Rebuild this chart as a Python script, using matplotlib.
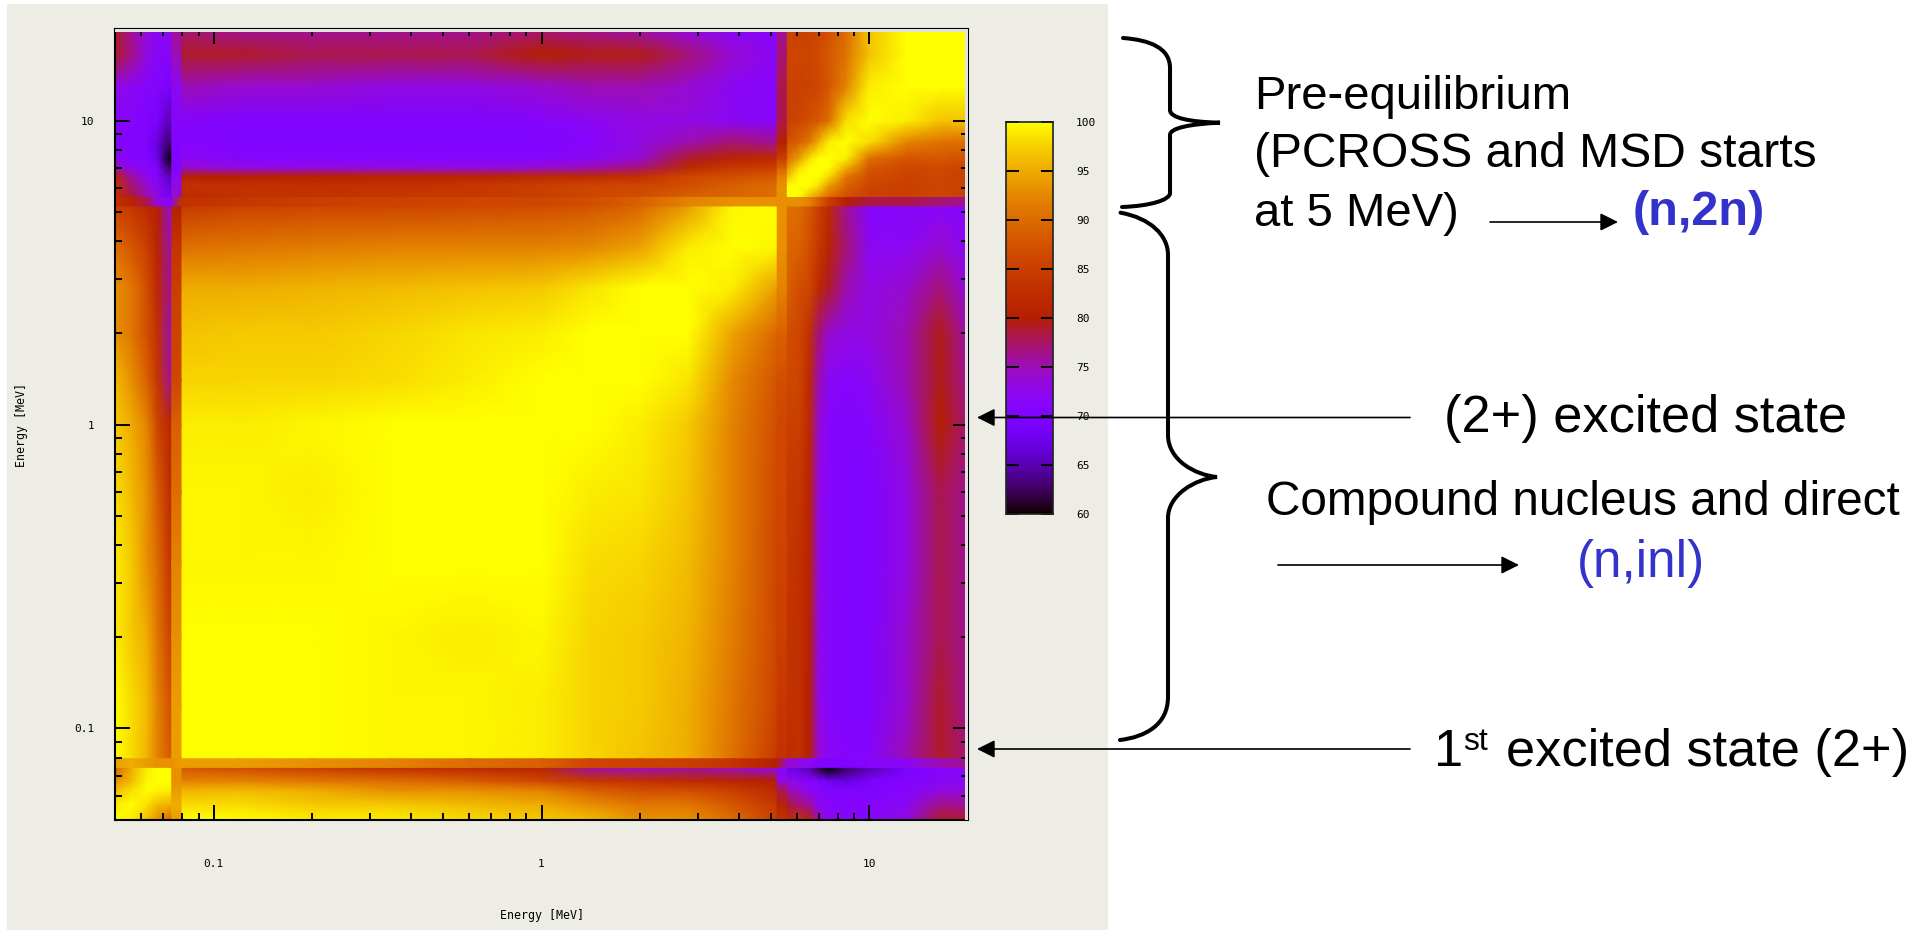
import matplotlib
matplotlib.use('Agg')
import matplotlib.pyplot as plt
import numpy as np
from matplotlib.path import Path
from matplotlib.patches import PathPatch, Rectangle
from matplotlib.ticker import NullFormatter, LogLocator

# Energy nodes in MeV (both axes use the same grid)
energy = [0.05, 0.056, 0.0625, 0.0672, 0.074, 0.0795, 0.12, 0.2, 0.35, 0.6, 1.0, 1.4, 2.0,
          2.8, 3.8, 5.2, 5.6, 6.1, 6.55, 7.0, 7.5, 8.5, 10, 13, 16.5, 20]

# Lower triangle of the correlation matrix
corr_rows = [
    [100],
    [99, 100],
    [96, 98, 100],
    [93, 96, 99.5, 100],
    [89, 95, 99, 100, 100],
    [100, 98, 95.5, 92, 88, 100],
    [100, 98, 96, 92, 87, 100, 100],
    [99, 97, 95, 91, 85, 100, 100, 100],
    [99, 97, 93, 90, 83, 99.5, 99.5, 99.5, 100],
    [98, 96, 93, 88.5, 82, 99.5, 99.5, 99, 100, 100],
    [97, 95, 92, 86, 81, 99, 99, 99.5, 100, 100, 100],
    [96, 93, 89, 84, 76, 97.5, 97.5, 97.5, 98, 99, 100, 100],
    [93, 91, 87, 83, 75, 96.5, 97, 97, 97.5, 98.5, 99, 100, 100],
    [93, 91, 87, 82, 76, 95, 95, 95.5, 96, 96.5, 97, 98.5, 100, 100],
    [90, 88, 85, 81, 75, 90.5, 91, 91.5, 92, 92, 92, 92.5, 94.5, 99, 100],
    [85, 84, 82, 80, 73, 84.5, 85.5, 86, 86, 86.5, 87, 87.5, 89.5, 94, 99.5, 100],
    [82, 79, 75, 73, 68, 82, 83, 83, 84, 84, 85, 86, 87, 89, 89.5, 90, 100],
    [83, 77, 74, 72, 67, 83, 83, 83, 83, 84, 85, 86, 86, 87, 89, 90, 100, 100],
    [81, 76, 72, 71, 65, 80, 80, 80.5, 81, 81, 82, 82, 83, 86, 87, 88, 96, 100, 100],
    [75, 72, 71, 70, 62, 74, 73, 73, 73, 73, 74, 75, 77, 82, 84, 85, 93, 98, 100, 100],
    [72, 71, 70, 68, 60, 72, 71, 71, 71, 71, 71, 72, 74, 79, 81, 82, 90, 94, 98, 100, 100],
    [71, 70.5, 70, 67, 62.5, 71, 70, 70, 70, 70, 70, 71, 73, 75, 77, 76, 87, 89, 91, 95, 99, 100],
    [71, 71, 70, 69.5, 65, 71, 70, 70, 70, 70, 71, 72, 73, 73, 72, 71, 85, 86, 87, 88, 90, 98, 100],
    [73, 72, 71, 70.5, 69.5, 75, 74, 74, 73, 73, 74, 75, 75, 74, 72, 71, 85, 85, 85.5, 86, 87.5, 92, 99, 100],
    [79, 76.5, 73, 71.5, 71, 79, 79, 78, 78, 78, 80, 79.5, 79.5, 77, 74, 71.5, 86, 86, 86, 86.5, 88, 90.5, 96.5, 100, 100],
    [79, 76, 73.5, 72, 72, 77, 76, 76, 76, 76, 77, 76, 75, 73, 71.5, 71, 85, 85, 85, 85.5, 87, 90, 96.5, 100, 100, 100],
]

# The two narrow stripes, values along the energy grid
low_band = [94, 95, 94, 93, 93, 94, 94, 93, 92, 90, 89, 86, 85.5, 85, 83.5, 80, 74, 73, 72, 70.5, 70,
            70, 71, 72, 75, 76]
high_band = [83, 81, 78, 73, 71, 83, 84, 85, 85.5, 86, 86, 87, 89, 92, 93, 93, 93, 93, 92, 89, 85,
             80, 78, 78, 77, 76]
low_band_edges = [0.0745, 0.0795]
high_band_edges = [5.24, 5.58]

colorbar_ticks = [60, 65, 70, 75, 80, 85, 90, 95, 100]

W, H = 1931, 930
fig = plt.figure(figsize=(W / 100, H / 100), dpi=100, facecolor='white')
plt.rcParams['font.family'] = ['Liberation Sans', 'DejaVu Sans']


def axes_px(left, top, right, bottom, **kw):
    return fig.add_axes([left / W, 1 - bottom / H, (right - left) / W, (bottom - top) / H], **kw)


# grey panel behind the gnuplot picture
bg = axes_px(0, 0, W, H, zorder=0)
bg.set_xlim(0, W)
bg.set_ylim(H, 0)
bg.axis('off')
bg.add_patch(Rectangle((7, 4), 1101, 926, fc='#edece5', ec='none'))

# Main map
n = len(energy)
matrix = np.zeros((n, n))
for i, row in enumerate(corr_rows):
    for j, val in enumerate(row):
        matrix[i, j] = val
        matrix[j, i] = val

ax = axes_px(115, 29, 968, 820, zorder=1)
ax.set_xscale('log')
ax.set_yscale('log')
norm = plt.Normalize(60, 100)
ax.pcolormesh(energy, energy, matrix, shading='gouraud', cmap='gnuplot', norm=norm)

# stripes on top, columns first then rows
for edges, band in [(low_band_edges, low_band), (high_band_edges, high_band)]:
    strip = np.array([band, band])
    ax.pcolormesh(edges, energy, strip.T, shading='gouraud', cmap='gnuplot', norm=norm)
for edges, band in [(low_band_edges, low_band), (high_band_edges, high_band)]:
    strip = np.array([band, band])
    ax.pcolormesh(energy, edges, strip, shading='gouraud', cmap='gnuplot', norm=norm)

ax.set_xlim(0.05, 20)
ax.set_ylim(0.05, 20)
ax.set_xticks([0.1, 1, 10])
ax.set_xticklabels(['0.1', '1', '10'])
ax.set_yticks([0.1, 1, 10])
ax.set_yticklabels(['0.1', '1', '10'])
for axis in (ax.xaxis, ax.yaxis):
    axis.set_minor_locator(LogLocator(base=10, subs=range(2, 10), numticks=12))
    axis.set_minor_formatter(NullFormatter())
ax.tick_params(which='major', direction='in', top=True, right=True, length=10.5, width=1.4)
ax.tick_params(which='minor', direction='in', top=True, right=True, length=5, width=1.4)
ax.tick_params(axis='x', which='major', pad=28, labelsize=8, labelfontfamily='DejaVu Sans Mono')
ax.tick_params(axis='y', which='major', pad=15, labelsize=8, labelfontfamily='DejaVu Sans Mono')
for spine in ax.spines.values():
    spine.set_linewidth(1.5)
ax.set_xlabel('Energy [MeV]', family='DejaVu Sans Mono', fontsize=8.4, labelpad=29)
ax.set_ylabel('Energy [MeV]', family='DejaVu Sans Mono', fontsize=8.4, labelpad=33)
# thin light line between the map and the frame
ax.add_patch(Rectangle((0, 1 - 3.5 / 791), 1, 3.5 / 791, transform=ax.transAxes, fc='#e2e2e2', ec='none', zorder=3))
ax.add_patch(Rectangle((1 - 3 / 853, 0), 3 / 853, 1, transform=ax.transAxes, fc='#e2e2e2', ec='none', zorder=3))

# Colour bar
cax = axes_px(1006, 122, 1053, 514, zorder=1)
cax.imshow(np.linspace(100, 60, 256).reshape(-1, 1), extent=[0, 1, 60, 100], aspect='auto', cmap='gnuplot', norm=norm)
cax.set_xticks([])
cax.yaxis.tick_right()
cax.set_yticks(colorbar_ticks)
cax.set_yticklabels([str(t) for t in colorbar_ticks])
cax.tick_params(axis='y', direction='in', length=9, width=1.4, left=True, right=True, pad=16.5,
                labelsize=8, labelfontfamily='DejaVu Sans Mono')
for spine in cax.spines.values():
    spine.set_linewidth(1.2)
    spine.set_color('#222222')

# Overlay in pixel coordinates for the slide annotations
over = axes_px(0, 0, W, H, zorder=2)
over.set_xlim(0, W)
over.set_ylim(H, 0)
over.axis('off')
over.patch.set_alpha(0)

base = dict(family='Liberation Sans', color='black', va='baseline', ha='left')
over.text(1254, 109, 'Pre-equilibrium', fontsize=34, **base)
over.text(1254, 167, '(PCROSS and MSD starts', fontsize=34.6, **base)
over.text(1254, 226, 'at 5 MeV)', fontsize=34, **base)
over.text(1444, 432, '(2+) excited state', fontsize=37.7, **base)
over.text(1266, 515, 'Compound nucleus and direct', fontsize=34.4, **base)
over.text(1434, 766, '1', fontsize=37.7, **base)
over.text(1463, 750, 'st', fontsize=23, **base)
over.text(1506, 766, 'excited state (2+)', fontsize=37.7, **base)
over.text(1699, 225, '(n,2n)', family='Liberation Sans', fontsize=35, fontweight='bold', color='#3333cc',
          va='baseline', ha='center')
over.text(1641, 577, '(n,inl)', family='Liberation Sans', fontsize=37, color='#3333cc', va='baseline', ha='center')

arrow = dict(arrowstyle='-|>,head_length=1.08,head_width=0.54', lw=1.2, color='black', mutation_scale=10,
             shrinkA=0, shrinkB=0)
over.annotate('', xy=(1618, 222), xytext=(1490, 222), arrowprops=arrow)
over.annotate('', xy=(977, 417.5), xytext=(1410, 417.5), arrowprops=arrow)
over.annotate('', xy=(977, 749), xytext=(1410, 749), arrowprops=arrow)
over.annotate('', xy=(1519, 565), xytext=(1278, 565), arrowprops=arrow)

# Curly braces
brace1 = [(1123, 38), (1150, 40), (1170, 48), (1170, 68), (1170, 82), (1170, 96), (1170, 110),
          (1170, 118), (1190, 122), (1220, 122.7), (1190, 124), (1170, 128), (1170, 135),
          (1170, 154), (1170, 174), (1170, 193), (1170, 200), (1150, 206), (1122, 207)]
brace2 = [(1120.5, 212.7), (1150, 218), (1168, 235), (1168, 255), (1168, 315), (1168, 375), (1168, 435),
          (1168, 460), (1195, 475), (1217, 477), (1195, 479), (1168, 495), (1168, 518),
          (1168, 578), (1168, 638), (1168, 697), (1168, 725), (1145, 737), (1120, 740)]
for pts in (brace1, brace2):
    codes = [Path.MOVETO] + [Path.CURVE4] * (len(pts) - 1)
    over.add_patch(PathPatch(Path(pts, codes), fc='none', ec='black', lw=2.9, capstyle='round'))

fig.savefig('out.png', dpi=100)
